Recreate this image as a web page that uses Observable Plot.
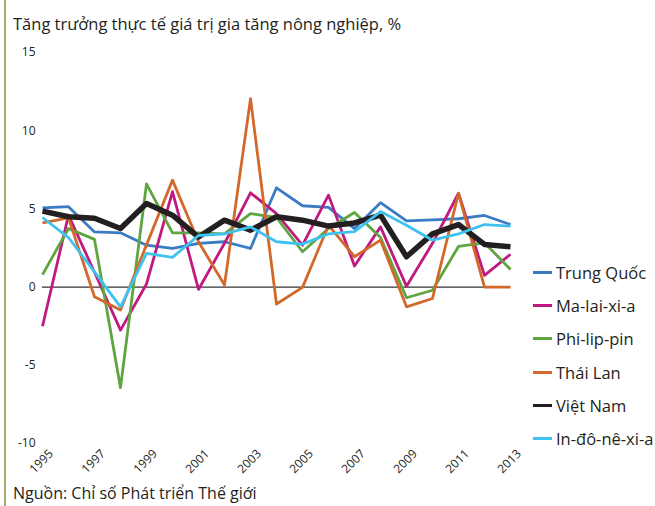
<!DOCTYPE html>
<html><head><meta charset="utf-8">
<script src="https://cdn.jsdelivr.net/npm/d3@7"></script>
<script src="https://cdn.jsdelivr.net/npm/@observablehq/plot@0.6"></script>
<style>
body{margin:0;background:#fff;font-family:"Open Sans","Noto Sans",sans-serif;}
#wrap{position:relative;width:655px;height:506px;overflow:hidden;}
#border{position:absolute;left:4px;top:0;width:2px;height:506px;background:#a9ad6c;}
#title{position:absolute;left:13px;top:13px;font-size:16.5px;line-height:1.362;color:#231f20;white-space:nowrap;}
#caption{position:absolute;left:13px;top:483px;font-size:16px;line-height:1.362;color:#231f20;white-space:nowrap;}
#legend{position:absolute;left:533px;top:256px;}
.item{height:33.2px;display:flex;align-items:center;font-size:16.5px;color:#231f20;white-space:nowrap;}
.sw{width:19px;height:3px;margin-right:4px;flex:none;}
#chart{position:absolute;left:0;top:0;}
</style></head>
<body><div id="wrap"><div id="chart"></div><div id="border"></div><div id="title"></div><div id="legend"></div><div id="caption"></div></div>
<script>
const years = [1995,1996,1997,1998,1999,2000,2001,2002,2003,2004,2005,2006,2007,2008,2009,2010,2011,2012,2013];
const yearTickLabels = [1995,1997,1999,2001,2003,2005,2007,2009,2011,2013];
const yTicks = [-10,-5,0,5,10,15];
const seriesNames = ["Trung Quốc","Ma-lai-xi-a","Phi-lip-pin","Thái Lan","Việt Nam","In-đô-nê-xi-a"];
const seriesColors = ["#3a7cc3","#c0197f","#5ea540","#d2692a","#231f20","#3ec3f0"];
const china =     [5.07,5.14,3.53,3.47,2.68,2.47,2.8,2.9,2.47,6.35,5.2,5.1,3.74,5.4,4.23,4.3,4.37,4.58,4.0];
const malaysia =  [-2.5,4.6,0.95,-2.75,0.2,6.1,-0.15,2.8,6.03,4.7,2.68,5.88,1.35,3.85,0.05,2.8,6.0,0.75,2.1];
const philippines=[0.8,3.75,3.05,-6.43,6.6,3.47,3.47,3.4,4.7,4.45,2.26,3.75,4.77,3.17,-0.68,-0.2,2.6,2.83,1.13];
const thailand =  [4.1,4.43,-0.62,-1.47,2.7,6.84,2.9,0.13,12.05,-1.08,-0.02,3.96,1.94,3.0,-1.26,-0.73,6.0,0.0,0.0];
const vietnam =   [4.86,4.5,4.4,3.75,5.35,4.6,3.2,4.28,3.64,4.5,4.28,3.9,4.1,4.6,1.94,3.4,4.0,2.73,2.58];
const indonesia = [4.45,3.17,0.97,-1.26,2.15,1.9,3.3,3.4,3.85,2.9,2.75,3.4,3.55,4.83,3.96,3.0,3.4,4.0,3.9];
const titleText = "Tăng trưởng thực tế giá trị gia tăng nông nghiệp, %";
const captionText = "Nguồn: Chỉ số Phát triển Thế giới";

const allSeries = [china,malaysia,philippines,thailand,vietnam,indonesia];
const rows = [];
allSeries.forEach((vals,i)=>vals.forEach((v,j)=>rows.push({series:seriesNames[i],year:years[j],value:v})));

const lineMarks = seriesNames.map((name,i)=>Plot.line(rows.filter(r=>r.series===name),{
  x:"year", y:"value", stroke: seriesColors[i], strokeWidth: name==="Việt Nam"?5.5:2.8,
  strokeLinejoin:"round", strokeLinecap:"butt"
}));

const chart = Plot.plot({
  width:655, height:506,
  marginLeft:42, marginRight:145, marginTop:52, marginBottom:63,
  style:{fontFamily:'"Open Sans","Noto Sans",sans-serif', fontSize:"12px", color:"#231f20", background:"transparent"},
  x:{domain:[1995,2013], axis:null},
  y:{domain:[-10,15], ticks:yTicks, axis:null},
  marks:[
    Plot.axisY(yTicks,{tickSize:0, tickPadding:7, tickFormat:d=>String(d), fontSize:12, label:null}),
    Plot.ruleY([0],{x1:1995,x2:2013,stroke:"#333",strokeWidth:1.2}),
    ...lineMarks,
    Plot.text(yearTickLabels,{x:d=>d, frameAnchor:"bottom", dy:18, dx:-1, rotate:-45, textAnchor:"middle", lineAnchor:"middle", text:d=>String(d), fontSize:12, fill:"#231f20"})
  ]
});
document.getElementById("chart").appendChild(chart);
document.getElementById("title").textContent = titleText;
document.getElementById("caption").textContent = captionText;
const lg = document.getElementById("legend");
seriesNames.forEach((n,i)=>{
  const d=document.createElement("div"); d.className="item";
  const s=document.createElement("span"); s.className="sw"; s.style.background=seriesColors[i];
  const t=document.createElement("span"); t.textContent=n;
  d.appendChild(s); d.appendChild(t); lg.appendChild(d);
});
</script></body></html>
